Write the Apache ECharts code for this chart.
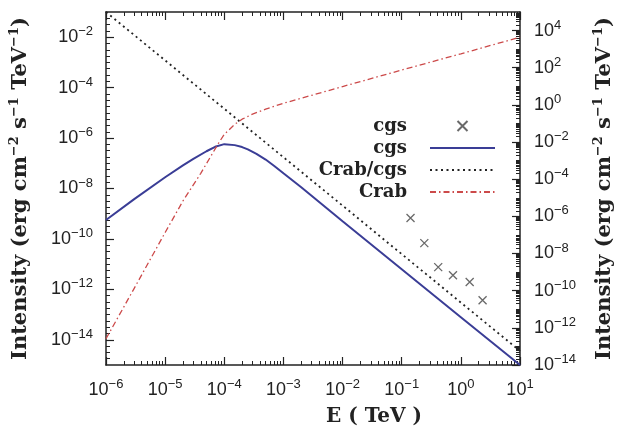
<!DOCTYPE html>
<html><head><meta charset="utf-8">
<script src="https://cdn.jsdelivr.net/npm/echarts@6/dist/echarts.min.js"></script>
<style>html,body{margin:0;padding:0;background:#fff}#c{width:626px;height:438px}</style>
</head><body><div id="c"></div>
<script>
// ---- data ----
const energyCgsPoints    = [0.141, 0.241, 0.414, 0.736, 1.41, 2.33];
const intensityCgsPoints = [6.8e-10, 6.8e-11, 7.6e-12, 3.6e-12, 1.95e-12, 3.7e-13];

const energyCgsCurve    = [1e-6, 3e-6, 1e-5, 2e-5, 3e-5, 5e-5, 7e-5, 1e-4, 1.5e-4, 2e-4, 2.5e-4, 3.5e-4, 5e-4, 7e-4, 1e-3, 2e-3, 1e-2, 1e-1, 1, 10];
const intensityCgsCurve = [5.6e-10, 3.8e-9, 2.8e-8, 8.3e-8, 1.5e-7, 3.0e-7, 4.5e-7, 5.75e-7, 5.25e-7, 4.4e-7, 3.55e-7, 2.35e-7, 1.41e-7, 7.8e-8, 4.0e-8, 1.12e-8, 5.0e-10, 6.3e-12, 7.9e-14, 1.0e-15];

const energyRatio    = [1e-6, 1e-5, 1e-4, 1e-3, 1e-2, 1e-1, 1, 10];
const intensityRatio = [1.0e-1, 1.2e-3, 1.45e-5, 1.74e-7, 2.1e-9, 2.5e-11, 3.0e-13, 3.6e-15];

const energyCrab    = [1e-6, 3e-6, 1e-5, 2e-5, 4e-5, 6e-5, 8e-5, 1e-4, 1.5e-4, 2e-4, 3e-4, 5e-4, 1e-3, 1e-2, 1e-1, 1, 10];
const intensityCrab = [1.1e-14, 1.1e-12, 1.8e-10, 3.2e-9, 4.0e-8, 2.0e-7, 6.3e-7, 1.4e-6, 3.5e-6, 5.6e-6, 8.9e-6, 1.4e-5, 2.4e-5, 1.1e-4, 5.0e-4, 2.2e-3, 1.0e-2];

const xTicks      = [1e-6, 1e-5, 1e-4, 1e-3, 1e-2, 1e-1, 1, 10];
const yLeftTicks  = [1e-14, 1e-12, 1e-10, 1e-8, 1e-6, 1e-4, 1e-2];
const yRightTicks = [1e-14, 1e-12, 1e-10, 1e-8, 1e-6, 1e-4, 1e-2, 1, 1e2, 1e4];

// minor tick positions
const xMinor = [];
for (let k = -6; k <= 0; k++) for (let m = 2; m <= 9; m++) xMinor.push(m * Math.pow(10, k));
const yLeftMinor = [];
for (let i = 1; i < 56; i++) yLeftMinor.push(Math.pow(10, -15 + i * 0.25));
const yRightMinor = [];
for (let k = -14; k <= 4; k++) for (let m = 1; m <= 9; m++) yRightMinor.push(m * Math.pow(10, k));

const zip = (a, b) => a.map((v, i) => [v, b[i]]);

const ink = '#222';
const supFmt = v => {
  const e = Math.round(Math.log10(v));
  return '10{s|' + (e < 0 ? '\u2212' + (-e) : String(e)) + '}';
};
const tickLabel = {
  fontFamily: 'Liberation Sans', fontSize: 18, color: ink, lineHeight: 24,
  rich: { s: { fontFamily: 'Liberation Sans', fontSize: 13, lineHeight: 13, verticalAlign: 'top', color: ink } }
};
const nameStyle = {
  fontFamily: 'DejaVu Serif', fontWeight: 'bold', fontSize: 21, color: ink, lineHeight: 26,
  rich: { s: { fontFamily: 'DejaVu Serif', fontWeight: 'bold', fontSize: 13, lineHeight: 13, verticalAlign: 'top', color: ink } }
};
const yName = 'Intensity (erg cm{s|\u22122} s{s|\u22121} TeV{s|\u22121})';

function majorAxis(extra) {
  return Object.assign({
    type: 'log', logBase: 10,
    axisLine: { show: true, lineStyle: { color: ink, width: 1.5 } },
    splitLine: { show: false },
    minorTick: { show: false }
  }, extra);
}
function minorAxis(extra, vals) {
  return Object.assign({
    type: 'log', logBase: 10,
    axisLine: { show: false },
    axisTick: { show: true, inside: true, length: 4, customValues: vals, lineStyle: { color: ink, width: 1 } },
    axisLabel: { show: false },
    splitLine: { show: false }
  }, extra);
}

const chart = echarts.init(document.getElementById('c'), null, { renderer: 'canvas' });
chart.setOption({
  animation: false,
  backgroundColor: '#fff',
  grid: { left: 106, right: 100, top: 12, bottom: 73, containLabel: false },
  legend: {
    orient: 'vertical', align: 'right', right: 125, top: 112,
    itemWidth: 65, itemHeight: 10, itemGap: 4,
    data: [
      { name: 'cgs' },
      { name: 'cgs ', itemStyle: { opacity: 0 } },
      { name: 'Crab/cgs', itemStyle: { opacity: 0 } },
      { name: 'Crab', itemStyle: { opacity: 0 } }
    ],
    formatter: n => n.trim(),
    textStyle: { fontFamily: 'DejaVu Serif', fontWeight: 'bold', fontSize: 18, color: ink, lineHeight: 18, padding: [0, 18, 0, 0] }
  },
  xAxis: [
    majorAxis({
      min: 1e-6, max: 10, position: 'bottom',
      axisTick: { show: true, inside: true, length: 8, customValues: xTicks, lineStyle: { color: ink, width: 1.2 } },
      axisLabel: Object.assign({ customValues: xTicks, formatter: supFmt, margin: 13 }, tickLabel),
      name: 'E ( TeV )', nameLocation: 'middle', nameGap: 36,
      nameTextStyle: { fontFamily: 'DejaVu Serif', fontWeight: 'bold', fontSize: 20, color: ink, padding: [0, 0, 0, 122] }
    }),
    minorAxis({ min: 1e-6, max: 10, position: 'bottom' }, xMinor),
    majorAxis({
      min: 1e-6, max: 10, position: 'top',
      axisTick: { show: true, inside: true, length: 8, customValues: xTicks, lineStyle: { color: ink, width: 1.2 } },
      axisLabel: { show: false }
    }),
    minorAxis({ min: 1e-6, max: 10, position: 'top' }, xMinor)
  ],
  yAxis: [
    majorAxis({
      min: 1e-15, max: 1e-1, position: 'left',
      axisTick: { show: true, inside: true, length: 8, customValues: yLeftTicks, lineStyle: { color: ink, width: 1.2 } },
      axisLabel: Object.assign({ customValues: yLeftTicks, formatter: supFmt, margin: 13 }, tickLabel),
      name: yName, nameLocation: 'middle', nameRotate: 90, nameGap: 72, nameTextStyle: nameStyle
    }),
    majorAxis({
      min: 1e-14, max: 1e5, position: 'right',
      axisTick: { show: true, inside: true, length: 8, customValues: yRightTicks, lineStyle: { color: ink, width: 1.2 } },
      axisLabel: Object.assign({ customValues: yRightTicks, formatter: supFmt, margin: 14 }, tickLabel),
      name: yName, nameLocation: 'middle', nameRotate: 90, nameGap: 72, nameTextStyle: nameStyle
    }),
    minorAxis({ min: 1e-15, max: 1e-1, position: 'left' }, yLeftMinor),
    minorAxis({ min: 1e-14, max: 1e5, position: 'right' }, yRightMinor)
  ],
  series: [
    {
      name: 'cgs', type: 'scatter', xAxisIndex: 0, yAxisIndex: 0,
      data: zip(energyCgsPoints, intensityCgsPoints),
      symbol: 'path://M0,0L10,10M10,0L0,10', symbolSize: 8,
      itemStyle: { color: 'rgba(0,0,0,0)', borderColor: '#444', borderWidth: 1.3 },
      silent: true
    },
    {
      name: 'cgs ', type: 'line', xAxisIndex: 0, yAxisIndex: 0,
      data: zip(energyCgsCurve, intensityCgsCurve),
      symbol: 'none', lineStyle: { color: '#3a3d96', width: 2 }, itemStyle: { color: '#3a3d96' }, silent: true
    },
    {
      name: 'Crab/cgs', type: 'line', xAxisIndex: 0, yAxisIndex: 0,
      data: zip(energyRatio, intensityRatio),
      symbol: 'none', lineStyle: { color: '#222', width: 1.8, type: [2, 3.5] }, itemStyle: { color: '#222' }, silent: true
    },
    {
      name: 'Crab', type: 'line', xAxisIndex: 0, yAxisIndex: 0,
      data: zip(energyCrab, intensityCrab),
      symbol: 'none', lineStyle: { color: '#cc4a4a', width: 1.3, type: [6, 3, 1.5, 3] }, itemStyle: { color: '#cc4a4a' }, silent: true
    }
  ]
});
</script>
</body></html>
